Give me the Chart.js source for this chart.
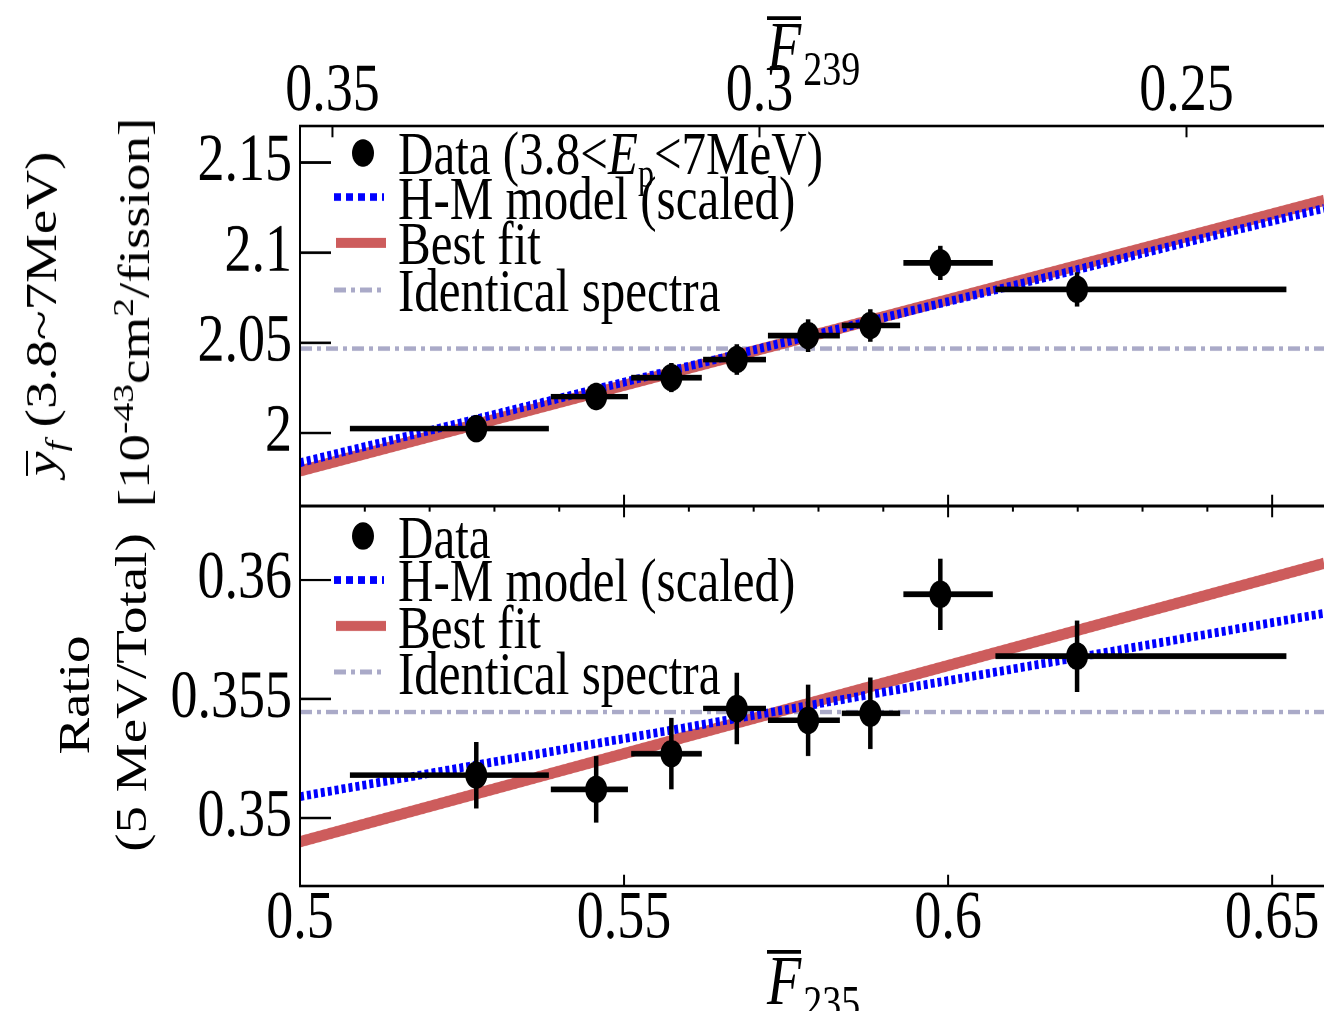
<!DOCTYPE html>
<html>
<head>
<meta charset="utf-8">
<title>IBD yield and ratio vs F235</title>
<script src="https://cdn.jsdelivr.net/npm/chart.js@4.4.1/dist/chart.umd.min.js"></script>
<style>
  html, body { margin: 0; padding: 0; background: #fff; }
  #page { position: relative; width: 1324px; height: 1011px; overflow: hidden; }
  /* the reference figure is stretched vertically, so draw flat and stretch */
  #stretch { position: absolute; left: 0; top: 0; width: 1324px; height: 808.8px;
             transform: scaleY(1.25); transform-origin: 0 0;
             font-family: 'Liberation Serif', 'Times New Roman', serif; color: #000; }
  #top-chart { position: absolute; left: 0; top: 0; }
  #bottom-chart { position: absolute; left: 0; top: 394px; }
  .txt { position: absolute; white-space: nowrap; line-height: 1; }
  .legend { font-size: 49px; left: 398px; }
  .ytitle { font-size: 44px; transform: translate(-50%, -50%) rotate(-90deg); }
  .ftitle { font-size: 56px; }
  .ftitle i { display: inline-block; line-height: 0.74; border-top: 3px solid #000; padding-top: 1px; }
  .ftitle span { font-size: 38px; position: relative; top: 12px; margin-left: 2px; }
  .bar { display: inline-block; line-height: 0.62; border-top: 2px solid #000; }
  sub, sup { line-height: 0; }
</style>
</head>
<body>
<div id="page">
  <div id="stretch">
    <canvas id="top-chart" width="1324" height="416"></canvas>
    <canvas id="bottom-chart" width="1324" height="415"></canvas>

    <div class="txt ftitle" style="left:767px; top:9px;"><i>F</i><span>239</span></div>
    <div class="txt ftitle" style="left:767px; top:756px;"><i>F</i><span>235</span></div>

    <div class="txt ytitle" style="left:42px; top:251px;"><i class="bar">y</i><sub style="font-size:30px"><i>f</i></sub> (3.8~7MeV)</div>
    <div class="txt ytitle" style="left:135px; top:250px;">[10<sup style="font-size:30px">-43</sup>cm<sup style="font-size:30px">2</sup>/fission]</div>
    <div class="txt ytitle" style="left:75px; top:556px;">Ratio</div>
    <div class="txt ytitle" style="left:132px; top:554px;">(5 MeV/Total)</div>

    <div class="txt legend" style="top:98px;">Data (3.8&lt;<i>E</i><sub style="font-size:32px">p</sub>&lt;7MeV)</div>
    <div class="txt legend" style="top:134px;">H-M model (scaled)</div>
    <div class="txt legend" style="top:170px;">Best fit</div>
    <div class="txt legend" style="top:208px;">Identical spectra</div>

    <div class="txt legend" style="top:405px;">Data</div>
    <div class="txt legend" style="top:440px;">H-M model (scaled)</div>
    <div class="txt legend" style="top:477px;">Best fit</div>
    <div class="txt legend" style="top:514px;">Identical spectra</div>
  </div>
</div>

<script>
// ---- data ----
const f235 = [0.5272, 0.5457, 0.5573, 0.5674, 0.5784, 0.5880, 0.5988, 0.6199];
const f235Lo = [0.5077, 0.5387, 0.5511, 0.5622, 0.5722, 0.5836, 0.5931, 0.6073];
const f235Hi = [0.5384, 0.5506, 0.5620, 0.5719, 0.5833, 0.5926, 0.6069, 0.6522];

const yieldVal = [2.0024, 2.0202, 2.0307, 2.0407, 2.054, 2.0596, 2.0943, 2.0796];
const yieldErr = [0.007, 0.0075, 0.008, 0.0085, 0.009, 0.009, 0.0095, 0.0095];

const ratioVal = [0.3518, 0.3512, 0.3527, 0.3546, 0.3541, 0.3544, 0.3594, 0.3568];
const ratioErr = [0.0014, 0.0014, 0.0015, 0.0015, 0.0015, 0.0015, 0.0015, 0.0015];

// straight lines, given by their end points on the F235 axis
const lineX = [0.5, 0.658];
const yieldFit = [1.979, 2.129];
const yieldHM = [1.9835, 2.1246];
const yieldFlat = [2.0468, 2.0468];
const ratioFit = [0.3490, 0.3607];
const ratioHM = [0.3509, 0.3586];
const ratioFlat = [0.35445, 0.35445];

// axis ranges
const f235Range = [0.5, 0.658];
const f239Range = [0.2339, 0.3538];
const yieldRange = [1.9595, 2.1702];
const ratioRange = [0.34714, 0.36311];

const FONT = "'Liberation Serif', 'Times New Roman', serif";
const RED = '#cd5c5c';
const BLUE = '#0000ff';
const GREY = '#aaaac8';

// ---- helpers ----
function points(xs, ys) {
    return xs.map((x, i) => ({x: x, y: ys[i]}));
}

function xBars(lo, hi, ys) {
    const pts = [];
    ys.forEach((y, i) => {
        pts.push({x: lo[i], y: y}, {x: hi[i], y: y}, {x: hi[i], y: null});
    });
    return pts;
}

function yBars(xs, ys, err) {
    const pts = [];
    xs.forEach((x, i) => {
        pts.push({x: x, y: ys[i] - err[i]}, {x: x, y: ys[i] + err[i]}, {x: x, y: null});
    });
    return pts;
}

function isMultiple(v, step) {
    const r = v / step;
    return Math.abs(r - Math.round(r)) < 1e-6;
}

function labelEvery(step) {
    return v => isMultiple(v, step) ? String(parseFloat(v.toFixed(4))) : null;
}

function datasets(vals, errs, fit, hm, flat) {
    const line = {showLine: true, pointRadius: 0, fill: false, tension: 0, xAxisID: 'x', yAxisID: 'y'};
    return [
        {data: points(f235, vals), pointRadius: 11, pointBackgroundColor: '#000',
         pointBorderWidth: 0, showLine: false, xAxisID: 'x', yAxisID: 'y'},
        {...line, data: xBars(f235Lo, f235Hi, vals), borderColor: '#000', borderWidth: 4.5, spanGaps: false},
        {...line, data: yBars(f235, vals, errs), borderColor: '#000', borderWidth: 4.5, spanGaps: false},
        {...line, data: points(lineX, hm), borderColor: BLUE, borderWidth: 7, borderDash: [4, 3]},
        {...line, data: points(lineX, fit), borderColor: RED, borderWidth: 9},
        {...line, data: points(lineX, flat), borderColor: GREY, borderWidth: 3.5, borderDash: [12, 5, 4, 5]}
    ];
}

// inward tick marks and frame, ROOT style
const frameTicks = {
    id: 'frameTicks',
    afterDatasetsDraw(chart, args, opts) {
        const ctx = chart.ctx;
        const a = chart.chartArea;
        ctx.save();
        ctx.strokeStyle = '#000';
        ctx.lineWidth = 2;
        opts.edges.forEach(e => {
            const sc = chart.scales[e.scale];
            sc.ticks.forEach(t => {
                const p = sc.getPixelForValue(t.value);
                const major = isMultiple(t.value, e.major);
                ctx.beginPath();
                if (e.side === 'left') {
                    const len = major ? 31 : 16;
                    ctx.moveTo(a.left, p); ctx.lineTo(a.left + len, p);
                } else if (e.side === 'top') {
                    const len = major ? 9 : 4.5;
                    ctx.moveTo(p, a.top); ctx.lineTo(p, a.top + len);
                } else {
                    const len = major ? 9 : 4.5;
                    ctx.moveTo(p, a.bottom); ctx.lineTo(p, a.bottom - len);
                }
                ctx.stroke();
            });
        });
        ctx.strokeRect(a.left, a.top, a.right - a.left + 4, a.bottom - a.top);
        ctx.restore();
    }
};

// legend symbols (text is html)
const legendMarks = {
    id: 'legendMarks',
    afterDraw(chart, args, opts) {
        const ctx = chart.ctx;
        ctx.save();
        const rows = opts.rows;
        // data
        ctx.fillStyle = '#000';
        ctx.beginPath();
        ctx.arc(363, rows[0], 11, 0, Math.PI * 2);
        ctx.fill();
        // H-M
        ctx.strokeStyle = BLUE; ctx.lineWidth = 6; ctx.setLineDash([7, 5]);
        ctx.beginPath(); ctx.moveTo(334, rows[1]); ctx.lineTo(384, rows[1]); ctx.stroke();
        // best fit
        ctx.strokeStyle = RED; ctx.lineWidth = 8; ctx.setLineDash([]);
        ctx.beginPath(); ctx.moveTo(336, rows[2]); ctx.lineTo(386, rows[2]); ctx.stroke();
        // identical
        ctx.strokeStyle = GREY; ctx.lineWidth = 4; ctx.setLineDash([12, 5, 4, 5]);
        ctx.beginPath(); ctx.moveTo(334, rows[3]); ctx.lineTo(384, rows[3]); ctx.stroke();
        ctx.restore();
    }
};

function tickFont() {
    return {family: FONT, size: 54, lineHeight: 1};
}

// fixed axis sizes, no automatic label padding
function fixHeight(h) {
    return s => { s.height = h; s.paddingLeft = 0; s.paddingRight = 0; s.paddingTop = 0; s.paddingBottom = 0; };
}

function fixWidth(w) {
    return s => { s.width = w; s.paddingLeft = 0; s.paddingRight = 0; s.paddingTop = 0; s.paddingBottom = 0; };
}

function bottomScale(showLabels, height) {
    return {
        type: 'linear', axis: 'x', position: 'bottom',
        min: f235Range[0], max: f235Range[1],
        grid: {display: false, drawTicks: false}, border: {display: false},
        ticks: {display: showLabels, stepSize: 0.01, includeBounds: false, autoSkip: false,
                maxRotation: 0, padding: 0, color: '#000', font: tickFont(),
                callback: labelEvery(0.05)},
        afterFit: fixHeight(height)
    };
}

function makeChart(id, cfg) {
    return new Chart(document.getElementById(id), {
        type: 'scatter',
        data: {datasets: cfg.datasets},
        options: {
            responsive: false,
            animation: false,
            devicePixelRatio: 2,
            events: [],
            layout: {padding: 0, autoPadding: false},
            plugins: {
                legend: {display: false},
                tooltip: {enabled: false},
                frameTicks: {edges: cfg.edges},
                legendMarks: {rows: cfg.legendRows}
            },
            scales: cfg.scales
        },
        plugins: [frameTicks, legendMarks]
    });
}

// ---- top panel: yield ----
makeChart('top-chart', {
    datasets: datasets(yieldVal, yieldErr, yieldFit, yieldHM, yieldFlat),
    legendRows: [122.4, 157.6, 194.4, 232],
    edges: [
        {scale: 'y', side: 'left', major: 0.05},
        {scale: 'x2', side: 'top', major: 0.05},
        {scale: 'x', side: 'bottom', major: 0.05}
    ],
    scales: {
        x: bottomScale(false, 11.2),
        x2: {
            type: 'linear', axis: 'x', position: 'top', reverse: true,
            min: f239Range[0], max: f239Range[1],
            grid: {display: false, drawTicks: false}, border: {display: false},
            ticks: {stepSize: 0.01, includeBounds: false, autoSkip: false, maxRotation: 0,
                    padding: 0, color: '#000', font: tickFont(), callback: labelEvery(0.05)},
            afterFit: fixHeight(100.8)
        },
        y: {
            type: 'linear', axis: 'y', position: 'left',
            min: yieldRange[0], max: yieldRange[1],
            grid: {display: false, drawTicks: false}, border: {display: false},
            ticks: {stepSize: 0.01, includeBounds: false, autoSkip: false, padding: 8,
                    color: '#000', font: tickFont(), callback: labelEvery(0.05)},
            afterFit: fixWidth(300)
        }
    }
});

// ---- bottom panel: ratio ----
makeChart('bottom-chart', {
    datasets: datasets(ratioVal, ratioErr, ratioFit, ratioHM, ratioFlat),
    legendRows: [34.8, 70, 106.8, 143.6],
    edges: [
        {scale: 'y', side: 'left', major: 0.005},
        {scale: 'x2', side: 'top', major: 0.05},
        {scale: 'x', side: 'bottom', major: 0.05}
    ],
    scales: {
        x: bottomScale(true, 100.2),
        x2: {
            type: 'linear', axis: 'x', position: 'top',
            min: f235Range[0], max: f235Range[1],
            grid: {display: false, drawTicks: false}, border: {display: false},
            ticks: {display: false, stepSize: 0.01, includeBounds: false, autoSkip: false},
            afterFit: fixHeight(10.8)
        },
        y: {
            type: 'linear', axis: 'y', position: 'left',
            min: ratioRange[0], max: ratioRange[1],
            grid: {display: false, drawTicks: false}, border: {display: false},
            ticks: {stepSize: 0.001, includeBounds: false, autoSkip: false, padding: 8,
                    color: '#000', font: tickFont(), callback: labelEvery(0.005)},
            afterFit: fixWidth(300)
        }
    }
});
</script>
</body>
</html>
